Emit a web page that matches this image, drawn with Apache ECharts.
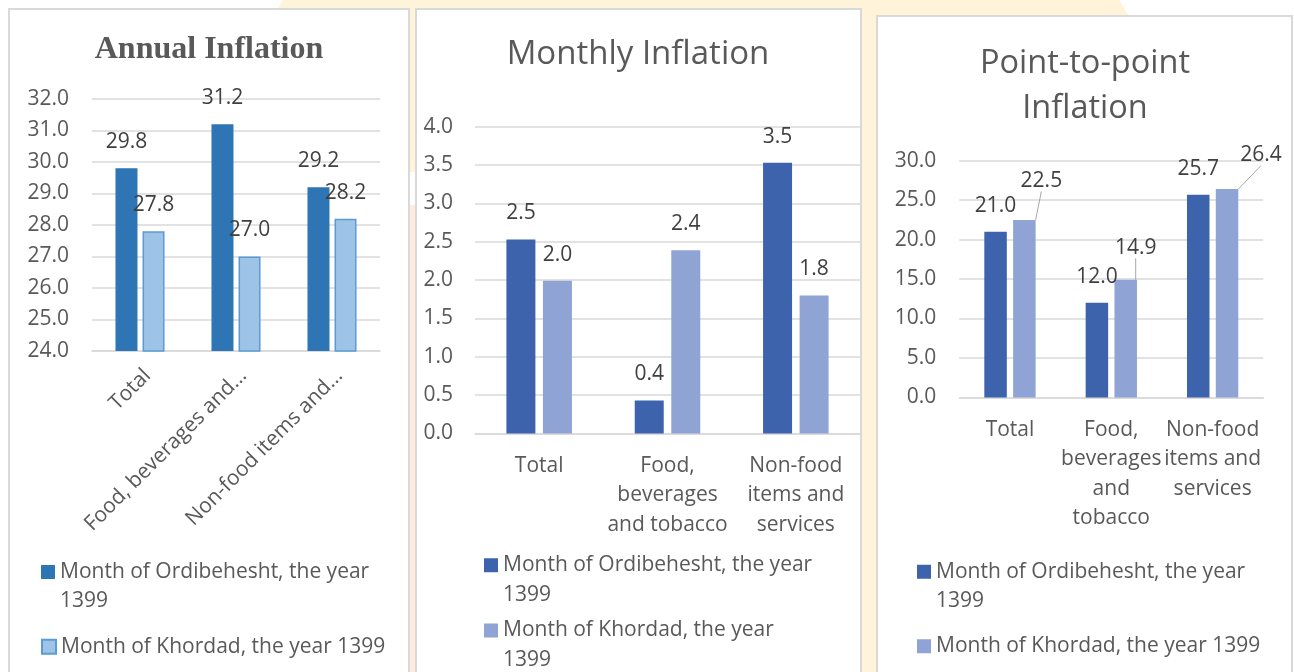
<!DOCTYPE html>
<html>
<head>
<meta charset="utf-8">
<script src="https://cdn.jsdelivr.net/npm/echarts@6/dist/echarts.min.js"></script>
<style>
body{margin:0;width:1294px;height:672px;overflow:hidden;background:#fff;position:relative;}
.bg{position:absolute;}
.panel{position:absolute;box-sizing:border-box;border:2px solid #d9d9d9;background:#fff;}
.chart{position:absolute;left:0;top:0;width:1294px;height:672px;}
</style>
</head>
<body>
<div class="bg" style="left:0;top:0;width:1294px;height:672px;background:#fff3d9;clip-path:polygon(283px 0,1119px 0,1240px 200px,1240px 672px,160px 672px,160px 200px);"></div>
<div class="bg" style="left:408px;top:172px;width:9px;height:33px;background:#fff;"></div>
<div class="bg" style="left:408px;top:205px;width:9px;height:467px;background:#fdebde;"></div>
<div class="panel" style="left:8px;top:8px;width:402px;height:700px;"></div>
<div class="panel" style="left:415px;top:8px;width:447px;height:700px;"></div>
<div class="panel" style="left:876px;top:15px;width:417px;height:700px;"></div>
<div class="chart" id="annual_chart"></div>
<div class="chart" id="monthly_chart"></div>
<div class="chart" id="p2p_chart"></div>
<script>
// series names
var name_ordi = 'Month of Ordibehesht, the year 1399';
var name_khor = 'Month of Khordad, the year 1399';

// Annual Inflation
var annual_cats = ['Total', 'Food, beverages and…', 'Non-food items and…'];
var annual_ordi = [29.8, 31.2, 29.2];
var annual_khor = [27.8, 27.0, 28.2];

// Monthly Inflation
var monthly_cats = ['Total', 'Food,\nbeverages\nand tobacco', 'Non-food\nitems and\nservices'];
var monthly_ordi = [2.53, 0.43, 3.53];
var monthly_khor = [1.99, 2.39, 1.80];

// Point-to-point Inflation
var p2p_cats = ['Total', 'Food,\nbeverages\nand\ntobacco', 'Non-food\nitems and\nservices'];
var p2p_ordi = [21.0, 12.0, 25.7];
var p2p_khor = [22.5, 14.9, 26.4];

var txt = '#595959';
var grid_line = '#d9d9d9';
var font = 'Open Sans';
// square marker at the top of a taller box, so it sits on the first text line
var icon_two_line = 'path://M0,0L14,0L14,14L0,14Z M0,43.5L0.01,43.5';

function fmt1(v) {
    return (typeof v === 'number' ? v : v.value).toFixed(1);
}

function legend_item(name, left, top, two_line) {
    return {
        left: left,
        top: top,
        padding: 0,
        orient: 'vertical',
        itemWidth: 14,
        itemHeight: two_line ? 43.5 : 14,
        selectedMode: false,
        data: [{name: name, icon: two_line ? icon_two_line : 'rect'}],
        formatter: function (n) {
            if (!two_line) return n;
            return n.replace(' 1399', '\n1399');
        },
        textStyle: {color: txt, fontSize: 21, fontFamily: font, lineHeight: 29.5}
    };
}

function value_axis(min, max, interval, margin) {
    return {
        type: 'value',
        min: min,
        max: max,
        interval: interval,
        axisLine: {show: false},
        axisTick: {show: false},
        axisLabel: {color: txt, fontSize: 21, fontFamily: font, margin: margin, formatter: fmt1},
        splitLine: {lineStyle: {color: grid_line, width: 1.5}}
    };
}

function bar_label() {
    return {show: true, position: 'top', distance: 15.5, color: '#404040', fontSize: 21, fontFamily: font, formatter: fmt1};
}

function m_onload() {
    init_annual();
    init_monthly();
    init_p2p();
}

function init_annual() {
    var chart = echarts.init(document.getElementById('annual_chart'));
    var option = {
        animation: false,
        title: {
            text: 'Annual Inflation',
            left: 209,
            top: 34,
            padding: 0,
            textAlign: 'center',
            textStyle: {color: txt, fontSize: 32, fontWeight: 'bold', fontFamily: 'Liberation Serif'}
        },
        legend: [
            legend_item(name_ordi, 41, 557.25, true),
            legend_item(name_khor, 41, 632, false)
        ],
        grid: {left: 92, top: 99, width: 288, height: 252},
        xAxis: {
            type: 'category',
            data: annual_cats,
            axisLine: {lineStyle: {color: grid_line, width: 1.5}},
            axisTick: {show: false},
            axisLabel: {color: txt, fontSize: 21, fontFamily: font, rotate: 45, margin: 14, verticalAlign: 'top', interval: 0}
        },
        yAxis: value_axis(24, 32, 1, 23),
        series: [
            {
                name: name_ordi,
                type: 'bar',
                barWidth: 22,
                barGap: '23%',
                itemStyle: {color: '#2e75b6'},
                label: bar_label(),
                data: annual_ordi
            },
            {
                name: name_khor,
                type: 'bar',
                barWidth: 22,
                itemStyle: {color: '#9dc3e6', borderColor: '#5b9bd5', borderWidth: 1.5},
                label: bar_label(),
                data: annual_khor
            }
        ]
    };
    chart.setOption(option);
}

function init_monthly() {
    var chart = echarts.init(document.getElementById('monthly_chart'));
    var option = {
        animation: false,
        title: {
            text: 'Monthly Inflation',
            left: 638,
            top: 38.5,
            padding: 0,
            textAlign: 'center',
            textStyle: {color: txt, fontSize: 33, fontWeight: 'normal', fontFamily: font}
        },
        legend: [
            legend_item(name_ordi, 484, 550.5, true),
            legend_item(name_khor, 484, 615.75, true)
        ],
        grid: {left: 475, top: 126.7, width: 385, height: 306.7},
        xAxis: {
            type: 'category',
            data: monthly_cats,
            axisLine: {lineStyle: {color: grid_line, width: 1.5}},
            axisTick: {show: false},
            axisLabel: {color: txt, fontSize: 21, fontFamily: font, lineHeight: 29.3, margin: 18, interval: 0}
        },
        yAxis: value_axis(0, 4, 0.5, 22),
        series: [
            {
                name: name_ordi,
                type: 'bar',
                barWidth: 29,
                barGap: '26%',
                itemStyle: {color: '#3c63ac'},
                label: bar_label(),
                data: monthly_ordi
            },
            {
                name: name_khor,
                type: 'bar',
                barWidth: 29,
                itemStyle: {color: '#8fa3d4'},
                label: bar_label(),
                data: monthly_khor
            }
        ]
    };
    chart.setOption(option);
}

function init_p2p() {
    var chart = echarts.init(document.getElementById('p2p_chart'));
    // label nudges (Excel moved these labels)
    var khor_moves = [[17, -13], [10, -6], [34, -8]];
    var option = {
        animation: false,
        title: {
            text: 'Point-to-point\nInflation',
            left: 1085,
            top: 41,
            padding: 0,
            textAlign: 'center',
            textStyle: {color: txt, fontSize: 32.5, fontWeight: 'normal', fontFamily: font, lineHeight: 45}
        },
        legend: [
            legend_item(name_ordi, 917, 557, true),
            legend_item(name_khor, 917, 631.5, false)
        ],
        grid: {left: 959.3, top: 160.7, width: 304, height: 236.7},
        xAxis: {
            type: 'category',
            data: p2p_cats,
            axisLine: {lineStyle: {color: grid_line, width: 1.5}},
            axisTick: {show: false},
            axisLabel: {color: txt, fontSize: 21, fontFamily: font, lineHeight: 29.3, margin: 18, interval: 0}
        },
        yAxis: value_axis(0, 30, 5, 23),
        series: [
            {
                name: name_ordi,
                type: 'bar',
                barWidth: 22.5,
                barGap: '28%',
                itemStyle: {color: '#3c63ac'},
                label: bar_label(),
                data: p2p_ordi
            },
            {
                name: name_khor,
                type: 'bar',
                barWidth: 22.5,
                itemStyle: {color: '#8fa3d4'},
                label: bar_label(),
                labelLine: {show: true, lineStyle: {color: '#a6a6a6', width: 1}},
                labelLayout: function (params) {
                    var m = khor_moves[params.dataIndex];
                    return {dx: m[0], dy: m[1]};
                },
                data: p2p_khor
            }
        ]
    };
    chart.setOption(option);
}

m_onload();
</script>
</body>
</html>
